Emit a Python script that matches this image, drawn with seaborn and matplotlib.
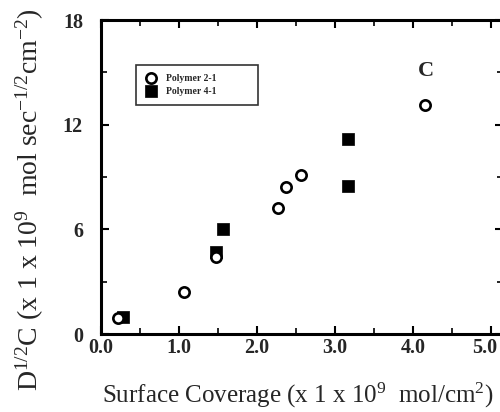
import matplotlib
matplotlib.use("Agg")
import matplotlib.pyplot as plt
import matplotlib.transforms as mtransforms
import seaborn as sns
import pandas as pd
from matplotlib.ticker import MultipleLocator

# data
p21_x = [0.22, 1.07, 1.47, 2.27, 2.37, 2.57, 4.15]
p21_y = [0.9, 2.4, 4.4, 7.2, 8.4, 9.1, 13.1]
p41_x = [0.28, 1.47, 1.57, 3.17, 3.17]
p41_y = [1.0, 4.7, 6.0, 8.5, 11.2]
series_names = ["Polymer 2-1", "Polymer 4-1"]
x_ticks = [0.0, 1.0, 2.0, 3.0, 4.0, 5.0]
x_tick_labels = ["0.0", "1.0", "2.0", "3.0", "4.0", "5.0"]
y_ticks = [0, 6, 12, 18]
y_tick_labels = ["0", "6", "12", "18"]

sns.set_style("ticks")
plt.rcParams['font.family'] = ['Liberation Serif', 'DejaVu Serif']
plt.rcParams['mathtext.default'] = 'regular'

fig = plt.figure(figsize=(5, 4.12), dpi=100)
W, H = 500, 412
left_px, right_px, top_px, bot_px = 101, 503, 20, 334
ax = fig.add_axes([left_px / W, 1 - bot_px / H, (right_px - left_px) / W, (bot_px - top_px) / H])

df1 = pd.DataFrame({"x": p21_x, "y": p21_y})
df2 = pd.DataFrame({"x": p41_x, "y": p41_y})
sns.scatterplot(data=df1, x="x", y="y", ax=ax, marker="o", s=55,
                facecolor="white", edgecolor="black", linewidth=1.9,
                label=series_names[0], zorder=3)
sns.scatterplot(data=df2, x="x", y="y", ax=ax, marker="s", s=70,
                color="black", edgecolor="black", linewidth=0.5,
                label=series_names[1], zorder=2)

ax.set_xlim(0, 5.155)
ax.set_ylim(0, 18)
ax.set_xticks(x_ticks)
ax.set_xticklabels(x_tick_labels)
ax.set_yticks(y_ticks)
ax.set_yticklabels(y_tick_labels)
ax.xaxis.set_minor_locator(MultipleLocator(0.5))
ax.yaxis.set_minor_locator(MultipleLocator(3))
for sp in ax.spines.values():
    sp.set_visible(True)
    sp.set_linewidth(2.2)
    sp.set_color("black")
ax.tick_params(which="both", direction="in", top=True, right=True, color="black")
ax.tick_params(which="major", length=6, width=1.5, labelsize=14.5)
ax.tick_params(which="minor", length=4, width=1.2)
ax.tick_params(axis="x", which="major", pad=3)
ax.tick_params(axis="y", which="major", pad=13)
for lab in ax.get_xticklabels() + ax.get_yticklabels():
    lab.set_fontweight("bold")

# nudge the last x tick label so it sits inside the figure like the reference
last_tick = ax.xaxis.get_major_ticks()[-1]
offset = mtransforms.ScaledTranslation(-4.5 / 72, 0, fig.dpi_scale_trans)
last_tick.label1.set_transform(last_tick.label1.get_transform() + offset)

ax.set_xlabel(r"Surface Coverage (x 1 x 10$^{9}$  mol/cm$^{2}$)", fontsize=18)
ax.set_ylabel(r"D$^{1/2}$C (x 1 x 10$^{9}$  mol sec$^{-1/2}$cm$^{-2}$)", fontsize=20)
ax.xaxis.set_label_coords(0.49, -0.15)
ax.yaxis.set_label_coords(-0.137, 0.427)

ax.text(4.17, 15.1, "C", fontsize=16, fontweight="bold", ha="center", va="center")

leg = ax.legend(loc="upper left", bbox_to_anchor=(0.087, 0.857, 0.303, 0.0),
                mode="expand", fontsize=7, frameon=True, fancybox=False,
                handletextpad=1.0, borderpad=0.9, labelspacing=0.45,
                handlelength=1.2, borderaxespad=0)
leg.get_frame().set_edgecolor("black")
leg.get_frame().set_linewidth(1.2)
for t in leg.get_texts():
    t.set_fontweight("bold")

fig.savefig("out.png", dpi=100)
